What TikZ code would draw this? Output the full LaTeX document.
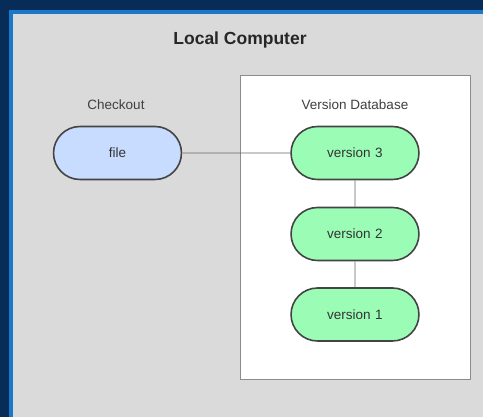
\documentclass[tikz,border=0pt]{standalone}
\usepackage{fontspec}
\setmainfont{Liberation Sans}
\usetikzlibrary{shapes.misc}
\definecolor{navy}{HTML}{082C58}
\definecolor{stripe}{HTML}{1A78C8}
\definecolor{panel}{HTML}{DADADA}
\definecolor{filefill}{HTML}{C8DCFF}
\definecolor{verfill}{HTML}{9BFDB5}
\definecolor{edge}{HTML}{444444}
\begin{document}
\begin{tikzpicture}[x=1pt,y=-1pt,
  pill/.style={rounded rectangle, draw=edge, line width=1.6pt, minimum width=127pt, minimum height=53pt, inner xsep=0pt, text width=127pt, align=center, font=\fontsize{13.5}{15}\selectfont, text=black!80},
  link/.style={draw=black!60, line width=0.9pt},
  caption/.style={font=\fontsize{13.5}{15}\selectfont, text=black!75}]
\useasboundingbox (0,0) rectangle (483,417);
\fill[navy] (0,0) rectangle (483,417);
\fill[stripe] (9,10) rectangle (483,417);
\fill[panel] (13,14) rectangle (483,417);
\node[font=\bfseries\fontsize{17.5}{20}\selectfont, text=black!85] (title) at (240,40) {Local Computer};
\node[draw=black!45, line width=1pt, fill=white, minimum width=230pt, minimum height=304pt, anchor=north west] (db) at (240,75) {};
\node[caption] (co) at (116,105) {Checkout};
\node[caption] (vd) at (355,105) {Version Database};
\node[pill, fill=filefill] (file) at (117.5,153) {file};
\node[pill, fill=verfill] (v3) at (355,153) {version 3};
\node[pill, fill=verfill] (v2) at (355,234) {version 2};
\node[pill, fill=verfill] (v1) at (355,314.5) {version 1};
\draw[link] (file) -- (v3);
\draw[link] (v3) -- (v2);
\draw[link] (v2) -- (v1);
\end{tikzpicture}
\end{document}
